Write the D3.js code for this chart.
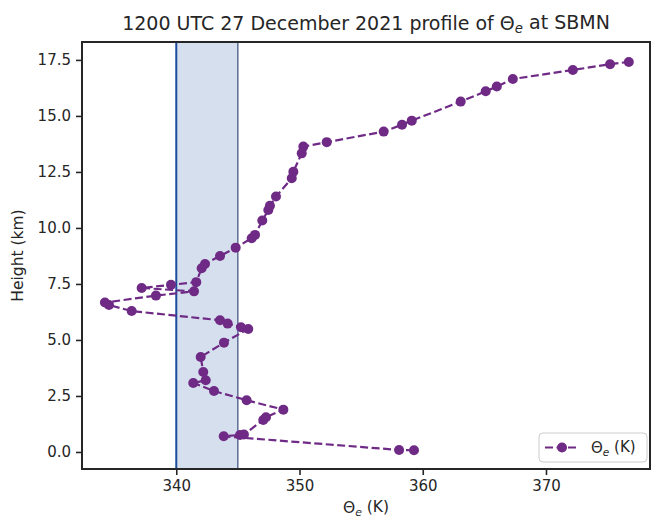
<!DOCTYPE html>
<html>
<head>
<meta charset="utf-8">
<script src="https://cdn.jsdelivr.net/npm/d3@7"></script>
<style>
  body { margin: 0; background: #fff; }
  text { font-family: "DejaVu Sans", sans-serif; fill: #262626; }
</style>
</head>
<body>
<div id="chart"></div>
<script>
// theta-e (K) and height (km) of the sounding, bottom to top
var thetaE = [359.29, 358.08, 343.85, 345.17, 345.49, 347.06, 347.28, 348.69, 345.71, 343.06,
  341.38, 342.39, 342.19, 341.98, 343.87, 345.84, 345.25, 344.17, 343.55, 336.38,
  334.54, 334.21, 338.35, 341.44, 337.19, 339.57, 341.62, 342.06, 342.33, 343.55,
  344.82, 346.12, 346.39, 346.98, 347.47, 347.60, 348.09, 349.37, 349.50, 350.18,
  350.31, 352.21, 356.83, 358.32, 359.11, 363.08, 365.11, 366.01, 367.31, 372.18,
  375.20, 376.72];
var height = [0.076, 0.09, 0.70, 0.76, 0.78, 1.43, 1.55, 1.89, 2.31, 2.72,
  3.08, 3.20, 3.57, 4.24, 4.88, 5.49, 5.57, 5.73, 5.88, 6.29,
  6.56, 6.67, 6.98, 7.17, 7.32, 7.46, 7.58, 8.20, 8.39, 8.75,
  9.12, 9.54, 9.69, 10.33, 10.80, 10.99, 11.40, 12.22, 12.51, 13.33,
  13.63, 13.83, 14.30, 14.61, 14.79, 15.64, 16.10, 16.31, 16.65, 17.05,
  17.31, 17.41];
var xTicks = [340, 350, 360, 370];
var yTicks = [0, 2.5, 5, 7.5, 10, 12.5, 15, 17.5];
var band = [340, 345];

var W = 652, H = 517;
var m = {left: 82, right: 650, top: 42, bottom: 469};
var purple = "#6f2a86";

var svg = d3.select("#chart").append("svg").attr("width", W).attr("height", H);

var x = d3.scaleLinear().domain([332.35, 378.44]).range([m.left, m.right]);
var y = d3.scaleLinear().domain([-0.76, 18.30]).range([m.bottom, m.top]);

// shaded layer
svg.append("rect")
  .attr("x", x(band[0])).attr("y", m.top)
  .attr("width", x(band[1]) - x(band[0])).attr("height", m.bottom - m.top)
  .attr("fill", "#d5dfee");
svg.append("line")
  .attr("x1", x(band[1])).attr("x2", x(band[1]))
  .attr("y1", m.top).attr("y2", m.bottom)
  .attr("stroke", "#1a2f66").attr("stroke-width", 1);
svg.append("line")
  .attr("x1", x(band[0])).attr("x2", x(band[0]))
  .attr("y1", m.top).attr("y2", m.bottom)
  .attr("stroke", "#1e4c9c").attr("stroke-width", 2);

// profile
var pts = thetaE.map(function(d, i) { return [d, height[i]]; });
var line = d3.line().x(function(d) { return x(d[0]); }).y(function(d) { return y(d[1]); });
svg.append("path").datum(pts)
  .attr("d", line).attr("fill", "none")
  .attr("stroke", purple).attr("stroke-width", 2.2)
  .attr("stroke-dasharray", "8,3.5");
svg.append("g").selectAll("circle").data(pts).enter().append("circle")
  .attr("cx", function(d) { return x(d[0]); })
  .attr("cy", function(d) { return y(d[1]); })
  .attr("r", 5).attr("fill", purple);

// axes
var xAxis = svg.append("g").attr("transform", "translate(0," + m.bottom + ")")
  .call(d3.axisBottom(x).tickValues(xTicks).tickSize(6).tickPadding(5).tickFormat(d3.format("d")));
var yAxis = svg.append("g").attr("transform", "translate(" + m.left + ",0)")
  .call(d3.axisLeft(y).tickValues(yTicks).tickSize(6).tickPadding(5).tickFormat(d3.format(".1f")));
[xAxis, yAxis].forEach(function(g) {
  g.select(".domain").remove();
  g.selectAll(".tick line").attr("stroke", "#262626").attr("stroke-width", 1.6);
  g.selectAll(".tick text").attr("font-size", 15).attr("fill", "#262626")
    .style("font-family", "DejaVu Sans");
});

// frame
svg.append("rect")
  .attr("x", m.left).attr("y", m.top)
  .attr("width", m.right - m.left).attr("height", m.bottom - m.top)
  .attr("fill", "none").attr("stroke", "#262626").attr("stroke-width", 2);

function thetaLabel(sel, rest) {
  sel.append("tspan").text("Θ");
  sel.append("tspan").text("e").attr("font-style", "italic")
    .attr("font-size", "0.7em").attr("dy", "0.25em");
  sel.append("tspan").text(rest).attr("dy", "-0.25em");
}

// title
var t = svg.append("text").attr("x", (m.left + m.right) / 2).attr("y", 30)
  .attr("text-anchor", "middle").attr("font-size", 19);
t.append("tspan").text("1200 UTC 27 December 2021 profile of ");
thetaLabel(t, " at SBMN");

// axis labels
var xl = svg.append("text").attr("x", (m.left + m.right) / 2).attr("y", 513)
  .attr("text-anchor", "middle").attr("font-size", 15.5);
thetaLabel(xl, " (K)");
svg.append("text").attr("transform", "translate(23," + ((m.top + m.bottom) / 2) + ") rotate(-90)")
  .attr("text-anchor", "middle").attr("font-size", 15.5).text("Height (km)");

// legend
var lg = svg.append("g").attr("transform", "translate(539,433)");
lg.append("rect").attr("width", 108).attr("height", 29).attr("rx", 4)
  .attr("fill", "#fff").attr("fill-opacity", 0.8)
  .attr("stroke", "#cccccc").attr("stroke-width", 1);
lg.append("line").attr("x1", 6).attr("x2", 40).attr("y1", 14.5).attr("y2", 14.5)
  .attr("stroke", purple).attr("stroke-width", 2.2).attr("stroke-dasharray", "8,3.5");
lg.append("circle").attr("cx", 23).attr("cy", 14.5).attr("r", 5).attr("fill", purple);
var lt = lg.append("text").attr("x", 52).attr("y", 20).attr("font-size", 15);
thetaLabel(lt, " (K)");
</script>
</body>
</html>
